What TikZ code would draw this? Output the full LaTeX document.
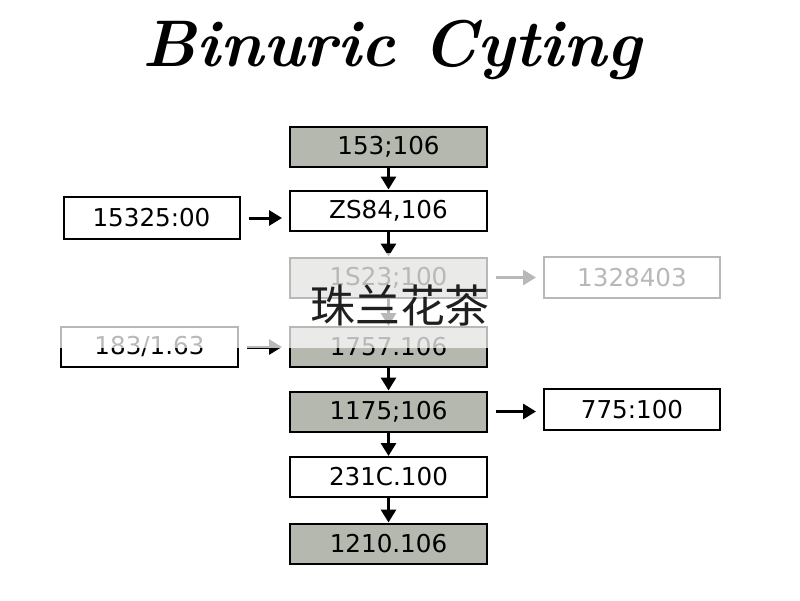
\documentclass[tikz,border=0pt]{standalone}
\usepackage{fontspec}
\setsansfont{DejaVu Sans}
\newfontfamily\cjkfont{Noto Sans CJK SC}
\usetikzlibrary{arrows.meta}
\definecolor{boxgray}{RGB}{181,184,174}
\begin{document}
\begin{tikzpicture}[
    cutbox/.style={draw=black, line width=0.040cm, minimum width=3.940000cm, minimum height=0.800000cm, inner sep=0pt, font=\sffamily\fontsize{14}{16}\selectfont},
    graybox/.style={cutbox, fill=boxgray},
    sidebox/.style={cutbox, minimum width=3.520000cm},
    flow/.style={line width=0.060cm, -{Triangle[length=0.260000cm, width=0.300000cm]}},
    sideflow/.style={flow, shorten <=0.160000cm, shorten >=0.140000cm}
  ]
  \useasboundingbox (0,0) rectangle (16.000000,12.000000);
  {\footnotesize

  % Drawing title
  \node (title) at (7.840000,11.000000) {\fontsize{37.5}{44}\selectfont\bfseries\itshape Binuric Cyting};

  % Drawing main column
  \node [graybox] (b1) at (7.770000,9.060000) {153;106};
  \node [cutbox] (b2) at (7.770000,7.790000) {ZS84,106};
  \node [graybox] (b3) at (7.770000,6.450000) {1S23;100};
  \node [graybox] (b4) at (7.770000,5.060000) {1757.106};
  \node [graybox] (b5) at (7.770000,3.770000) {1175;106};
  \node [cutbox] (b6) at (7.770000,2.460000) {231C.100};
  \node [graybox] (b7) at (7.770000,1.130000) {1210.106};

  % Drawing side boxes
  \node [sidebox, minimum height=0.840000cm] (l1) at (3.030000,7.640000) {15325:00};
  \node [sidebox, minimum width=3.540000cm] (l2) at (2.990000,5.060000) {183/1.63};
  \node [sidebox, minimum height=0.820000cm] (r1) at (12.640000,6.450000) {1328403};
  \node [sidebox, minimum height=0.820000cm] (r2) at (12.640000,3.810000) {775:100};

  % Drawing arrows down
  \draw [flow] (b1) -- (b2);
  \draw [flow] (b2) -- (b3);
  \draw [flow] (b3) -- (b4);
  \draw [flow] (b4) -- (b5);
  \draw [flow] (b5) -- (b6);
  \draw [flow] (b6) -- (b7);

  % Drawing arrows sideways
  \draw [sideflow] (l1) -- (l1 -| b2.west);
  \draw [sideflow] (l2) -- (b4);
  \draw [sideflow] (b3) -- (r1);
  \draw [sideflow] (b5.east) -- (b5.east -| r2.west);

  % Drawing faded band
  \fill [white, opacity=0.720000] (0.000000,5.040000) rectangle (16.000000,6.940000);

  % Drawing overlay text
  \node [text=black!88] (tea) at (8.000000,5.880000) {\cjkfont\fontsize{25.5}{30}\selectfont 珠兰花茶};
  }
\end{tikzpicture}
\end{document}
